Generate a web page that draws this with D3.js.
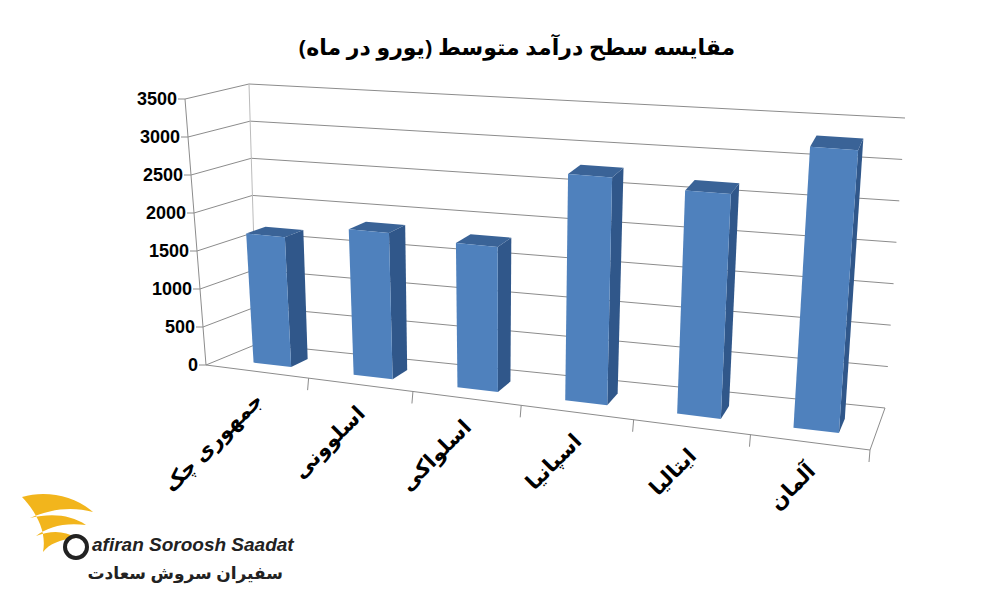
<!DOCTYPE html>
<html><head><meta charset="utf-8">
<script src="https://cdn.jsdelivr.net/npm/d3@7"></script>
<style>body{margin:0;background:#fff}</style></head>
<body><svg id="c" width="1000" height="600"></svg>
<script>
const categories = ["جمهوری چک","اسلوونی","اسلواکی","اسپانیا","ایتالیا","آلمان"];
const values = [1700, 1880, 1830, 2820, 2730, 3370];
const yTicks = [0,500,1000,1500,2000,2500,3000,3500];
const title = "مقایسه سطح درآمد متوسط (یورو در ماه)";

const svg = d3.select("#c");
const C = {FBL:[206,365],FBR:[870,450],FTL:[185,99],FTR:[893,152],
           BBL:[257,344],BBR:[885,408],BTL:[249,84],BTR:[905,118]};
const hS = d3.scaleLinear().domain([0,3500]).range([0,1]);
const uS = d3.scaleBand().domain(categories).range([0,1]).paddingInner(0.62).paddingOuter(0.31);
const warp = u => u/(u+1.12*(1-u)) + 0.003;
const lerp=(a,b,t)=>[a[0]+(b[0]-a[0])*t,a[1]+(b[1]-a[1])*t];
function P(u,v,h){
  const t=hS(h);
  const f=lerp(lerp(C.FBL,C.FBR,u),lerp(C.FTL,C.FTR,u),t);
  const b=lerp(lerp(C.BBL,C.BBR,u),lerp(C.BTL,C.BTR,u),t);
  return lerp(f,b,v);
}
const line=d3.line();
const g=svg.append("g");
const gs="#8c8c8c";
yTicks.forEach(v=>{
  g.append("path").attr("d",line([P(0,1,v),P(1,1,v)])).attr("stroke",gs).attr("fill","none");
  g.append("path").attr("d",line([P(0,0,v),P(0,1,v)])).attr("stroke",gs).attr("fill","none");
});
g.append("path").attr("d",line([P(0,0,0),P(0,0,3500)])).attr("stroke",gs).attr("fill","none");
g.append("path").attr("d",line([P(0,1,0),P(0,1,3500)])).attr("stroke","#bbb").attr("fill","none");
g.append("path").attr("d",line([P(0,0,0),P(1,0,0)])).attr("stroke",gs).attr("fill","none");
g.append("path").attr("d",line([P(1,0,0),P(1,1,0)])).attr("stroke",gs).attr("fill","none");
d3.range(1,7).forEach(i=>{
  const a=P(Math.min(1,warp(i/6)),0,0); g.append("path").attr("d",line([a,[a[0]-1,a[1]+12]])).attr("stroke",gs).attr("fill","none");
});
yTicks.forEach(v=>{const a=P(0,0,v);g.append("path").attr("d",line([a,[a[0]-7,a[1]]])).attr("stroke",gs).attr("fill","none");});
const v0=0.3,v1=0.65;
categories.forEach((c,i)=>{
  const u0=warp(uS(c)),u1=warp(uS(c)+uS.bandwidth()),h=values[i];
  const poly=(pts,fill)=>g.append("path").attr("d",line(pts)+"Z").attr("fill",fill);
  poly([P(u1,v0,0),P(u1,v1,0),P(u1,v1,h),P(u1,v0,h)],"#30578a");
  poly([P(u0,v0,h),P(u1,v0,h),P(u1,v1,h),P(u0,v1,h)],"#3a6397");
  poly([P(u0,v0,0),P(u1,v0,0),P(u1,v0,h),P(u0,v0,h)],"#4f81bd");
});
yTicks.forEach(v=>{const a=P(0,0,v);
  svg.append("text").attr("x",a[0]-8).attr("y",a[1]+6).attr("text-anchor","end")
   .attr("font-family","Liberation Sans, Arial").attr("font-weight","bold").attr("font-size",18).text(v);});
categories.forEach((c,i)=>{
  const a=P(warp((i+0.5)/6),0,0);
  svg.append("text").attr("transform",`translate(${a[0]+6},${a[1]+30}) rotate(-45)`)
   .attr("text-anchor","start").attr("direction","rtl")
   .attr("font-family","Noto Sans, DejaVu Sans").attr("font-weight","bold").attr("font-size",21).text(c);
});
svg.append("text").attr("x",517).attr("y",55).attr("text-anchor","middle").attr("direction","rtl")
  .attr("font-family","Noto Sans, DejaVu Sans").attr("font-weight","bold").attr("font-size",22).text(title);
const lg=svg.append("g");
lg.append("path").attr("d","M22,497 C45,490 74,495 93,512 C72,506 50,509 30,518 C52,513 71,515 86,525 C65,522 47,527 36,536 C52,530 65,531 76,538 C61,539 49,544 43,552 C47,531 36,512 22,497Z").attr("fill","#f2b51c");
lg.append("circle").attr("cx",76).attr("cy",547).attr("r",11).attr("fill","none").attr("stroke","#222").attr("stroke-width",4);
lg.append("text").attr("x",92).attr("y",551).attr("font-family","Liberation Sans").attr("font-style","italic").attr("font-weight","bold").attr("font-size",19).attr("fill","#222").text("afiran Soroosh Saadat");
lg.append("text").attr("x",283).attr("y",579).attr("text-anchor","start").attr("direction","rtl").attr("font-family","Noto Sans, DejaVu Sans").attr("font-weight","bold").attr("font-size",17).attr("fill","#222").text("سفیران سروش سعادت");
</script></body></html>
